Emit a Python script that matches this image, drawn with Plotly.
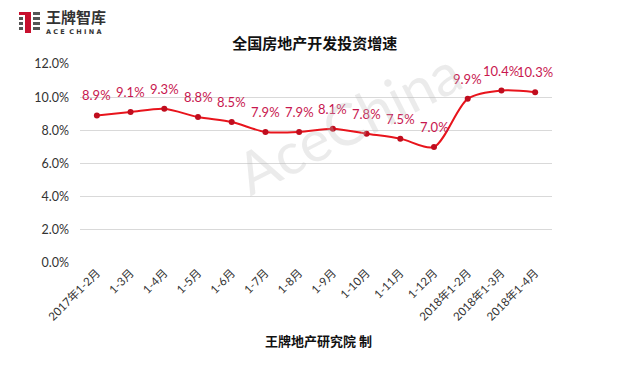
import plotly.graph_objects as go

categories = ["2017年1-2月", "1-3月", "1-4月", "1-5月", "1-6月", "1-7月", "1-8月",
              "1-9月", "1-10月", "1-11月", "1-12月", "2018年1-2月", "2018年1-3月", "2018年1-4月"]
values = [8.9, 9.1, 9.3, 8.8, 8.5, 7.9, 7.9, 8.1, 7.8, 7.5, 7.0, 9.9, 10.4, 10.3]
y_ticks = [0, 2, 4, 6, 8, 10, 12]
y_tick_labels = ["0.0%", "2.0%", "4.0%", "6.0%", "8.0%", "10.0%", "12.0%"]

L, R, T, B = 80, 88, 64, 102
W, H = 640, 365
pw, ph = W - L - R, H - T - B

def px(x):
    return (x - L) / pw

def py(y):
    return (H - B - y) / ph

fig = go.Figure()
fig.add_trace(go.Scatter(
    x=list(range(len(categories))), y=values,
    mode="lines+markers",
    line=dict(color="#e8141c", width=2, shape="spline", smoothing=0.8),
    marker=dict(color="#c00d1e", size=6),
    hoverinfo="skip",
))
# data labels (offset a bit higher above the points)
for i, v in enumerate(values):
    fig.add_annotation(x=i, y=v, text=f"{v:.1f}%", showarrow=False, yshift=20,
                       font=dict(color="#c8174f", size=13, family="Lato, Noto Sans CJK SC"))

fig.update_layout(
    width=W, height=H,
    margin=dict(l=L, r=R, t=T, b=B),
    paper_bgcolor="white", plot_bgcolor="white",
    showlegend=False,
    font=dict(family="Lato, Noto Sans CJK SC", color="#333333"),
    title=dict(text="<b>全国房地产开发投资增速</b>", x=0.492, xanchor="center", y=1 - 44 / H, yanchor="middle",
               font=dict(size=15, color="#111111", family="Noto Sans CJK SC")),
    xaxis=dict(
        tickmode="array", tickvals=list(range(len(categories))), ticktext=categories,
        range=[-0.5, len(categories) - 0.5],
        tickangle=-45, tickfont=dict(size=11.5, color="#333333", family="Lato, Noto Sans CJK SC"),
        showgrid=False, zeroline=False, showline=False, ticks="",
    ),
    yaxis=dict(
        range=[0, 12], tickmode="array", tickvals=y_ticks, ticktext=y_tick_labels,
        tickfont=dict(size=12.5, color="#333333", family="Lato, Noto Sans CJK SC"),
        showgrid=True, gridcolor="#d9d9d9", gridwidth=1, zeroline=False, showline=False,
        ticks="", ticklabelstandoff=10,
    ),
)

# watermark
fig.add_annotation(text="AceChina", xref="paper", yref="paper", x=px(348), y=py(210),
                   showarrow=False, textangle=-27,
                   font=dict(size=58, color="rgba(190,190,190,0.3)", family="Lato"))

# footer
fig.add_annotation(text="<b>王牌地产研究院 制</b>", xref="paper", yref="paper", x=px(318), y=py(340),
                   xanchor="center", yanchor="middle",
                   showarrow=False, font=dict(size=13, color="#111111", family="Noto Sans CJK SC"))

# logo
fig.add_shape(type="rect", xref="paper", yref="paper", x0=px(25), x1=px(31), y0=py(33), y1=py(12),
              fillcolor="#c8102e", line_width=0)
fig.add_shape(type="rect", xref="paper", yref="paper", x0=px(19), x1=px(31), y0=py(15), y1=py(12),
              fillcolor="#c8102e", line_width=0)
for yy in [12, 17, 22, 27]:
    fig.add_shape(type="rect", xref="paper", yref="paper", x0=px(33), x1=px(40), y0=py(yy + 3), y1=py(yy),
                  fillcolor="#555555", line_width=0)
for yy in [17, 22, 27]:
    fig.add_shape(type="rect", xref="paper", yref="paper", x0=px(19), x1=px(23), y0=py(yy + 3), y1=py(yy),
                  fillcolor="#555555", line_width=0)
fig.add_annotation(text="<b>王牌智库</b>", xref="paper", yref="paper", x=px(44), y=py(17),
                   xanchor="left", yanchor="middle", showarrow=False,
                   font=dict(size=15, color="#333333", family="Noto Sans CJK SC"))
fig.add_annotation(text="<b>A C E  C H I N A</b>", xref="paper", yref="paper", x=px(44), y=py(32),
                   xanchor="left", yanchor="middle", showarrow=False,
                   font=dict(size=6.5, color="#333333", family="DejaVu Sans"))

fig.write_html("out.html")
